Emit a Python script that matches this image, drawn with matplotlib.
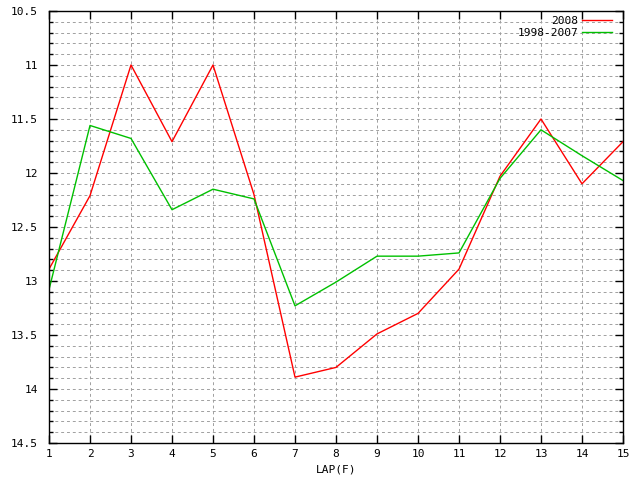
import matplotlib.pyplot as plt
import numpy as np
from matplotlib.ticker import MultipleLocator

# Tempos por volta
laps = list(range(1, 16))
t_2008 = [12.89, 12.21, 11.0, 11.71, 11.0, 12.2, 13.89, 13.8, 13.49, 13.3, 12.89, 12.03, 11.5, 12.1, 11.71]
t_1998_2007 = [13.08, 11.56, 11.68, 12.34, 12.15, 12.24, 13.23, 13.01, 12.77, 12.77, 12.74, 12.05, 11.6, 11.84, 12.07]

plt.rcParams['font.family'] = 'DejaVu Sans Mono'
plt.rcParams['font.size'] = 8

fig = plt.figure(figsize=(6.4, 4.8), dpi=100)
ax = fig.add_axes([49 / 640, 1 - 443 / 480, 574 / 640, 432 / 480])

ax.plot(laps, t_2008, color='#ff0000', lw=1, label='2008')
ax.plot(laps, t_1998_2007, color='#00c000', lw=1, label='1998-2007')

ax.set_xlim(1, 15)
ax.set_ylim(14.5, 10.5)
ax.xaxis.set_major_locator(MultipleLocator(1))
ax.yaxis.set_major_locator(MultipleLocator(0.5))
ax.yaxis.set_minor_locator(MultipleLocator(0.1))
ax.yaxis.set_major_formatter(plt.FuncFormatter(lambda v, p: ('%g' % v)))

grid_style = dict(color='#a0a0a0', linestyle=(0, (3, 3)), lw=0.7)
ax.grid(True, which='both', axis='y', **grid_style)
ax.grid(True, which='major', axis='x', **grid_style)
ax.tick_params(which='both', direction='in', top=True, right=True, width=1)
ax.tick_params(which='major', length=6)
ax.tick_params(axis='y', which='major', pad=8)
ax.tick_params(axis='x', which='major', pad=4)
ax.tick_params(which='minor', length=3)
for s in ax.spines.values():
    s.set_linewidth(1)

ax.set_xlabel('LAP(F)', labelpad=4)

ax.legend(loc='upper right', bbox_to_anchor=(0.98, 0.988), frameon=False, markerfirst=False,
          handlelength=2.7, borderaxespad=0, borderpad=0, labelspacing=0.15, handletextpad=0.3)

fig.savefig('out.png', dpi=100)
